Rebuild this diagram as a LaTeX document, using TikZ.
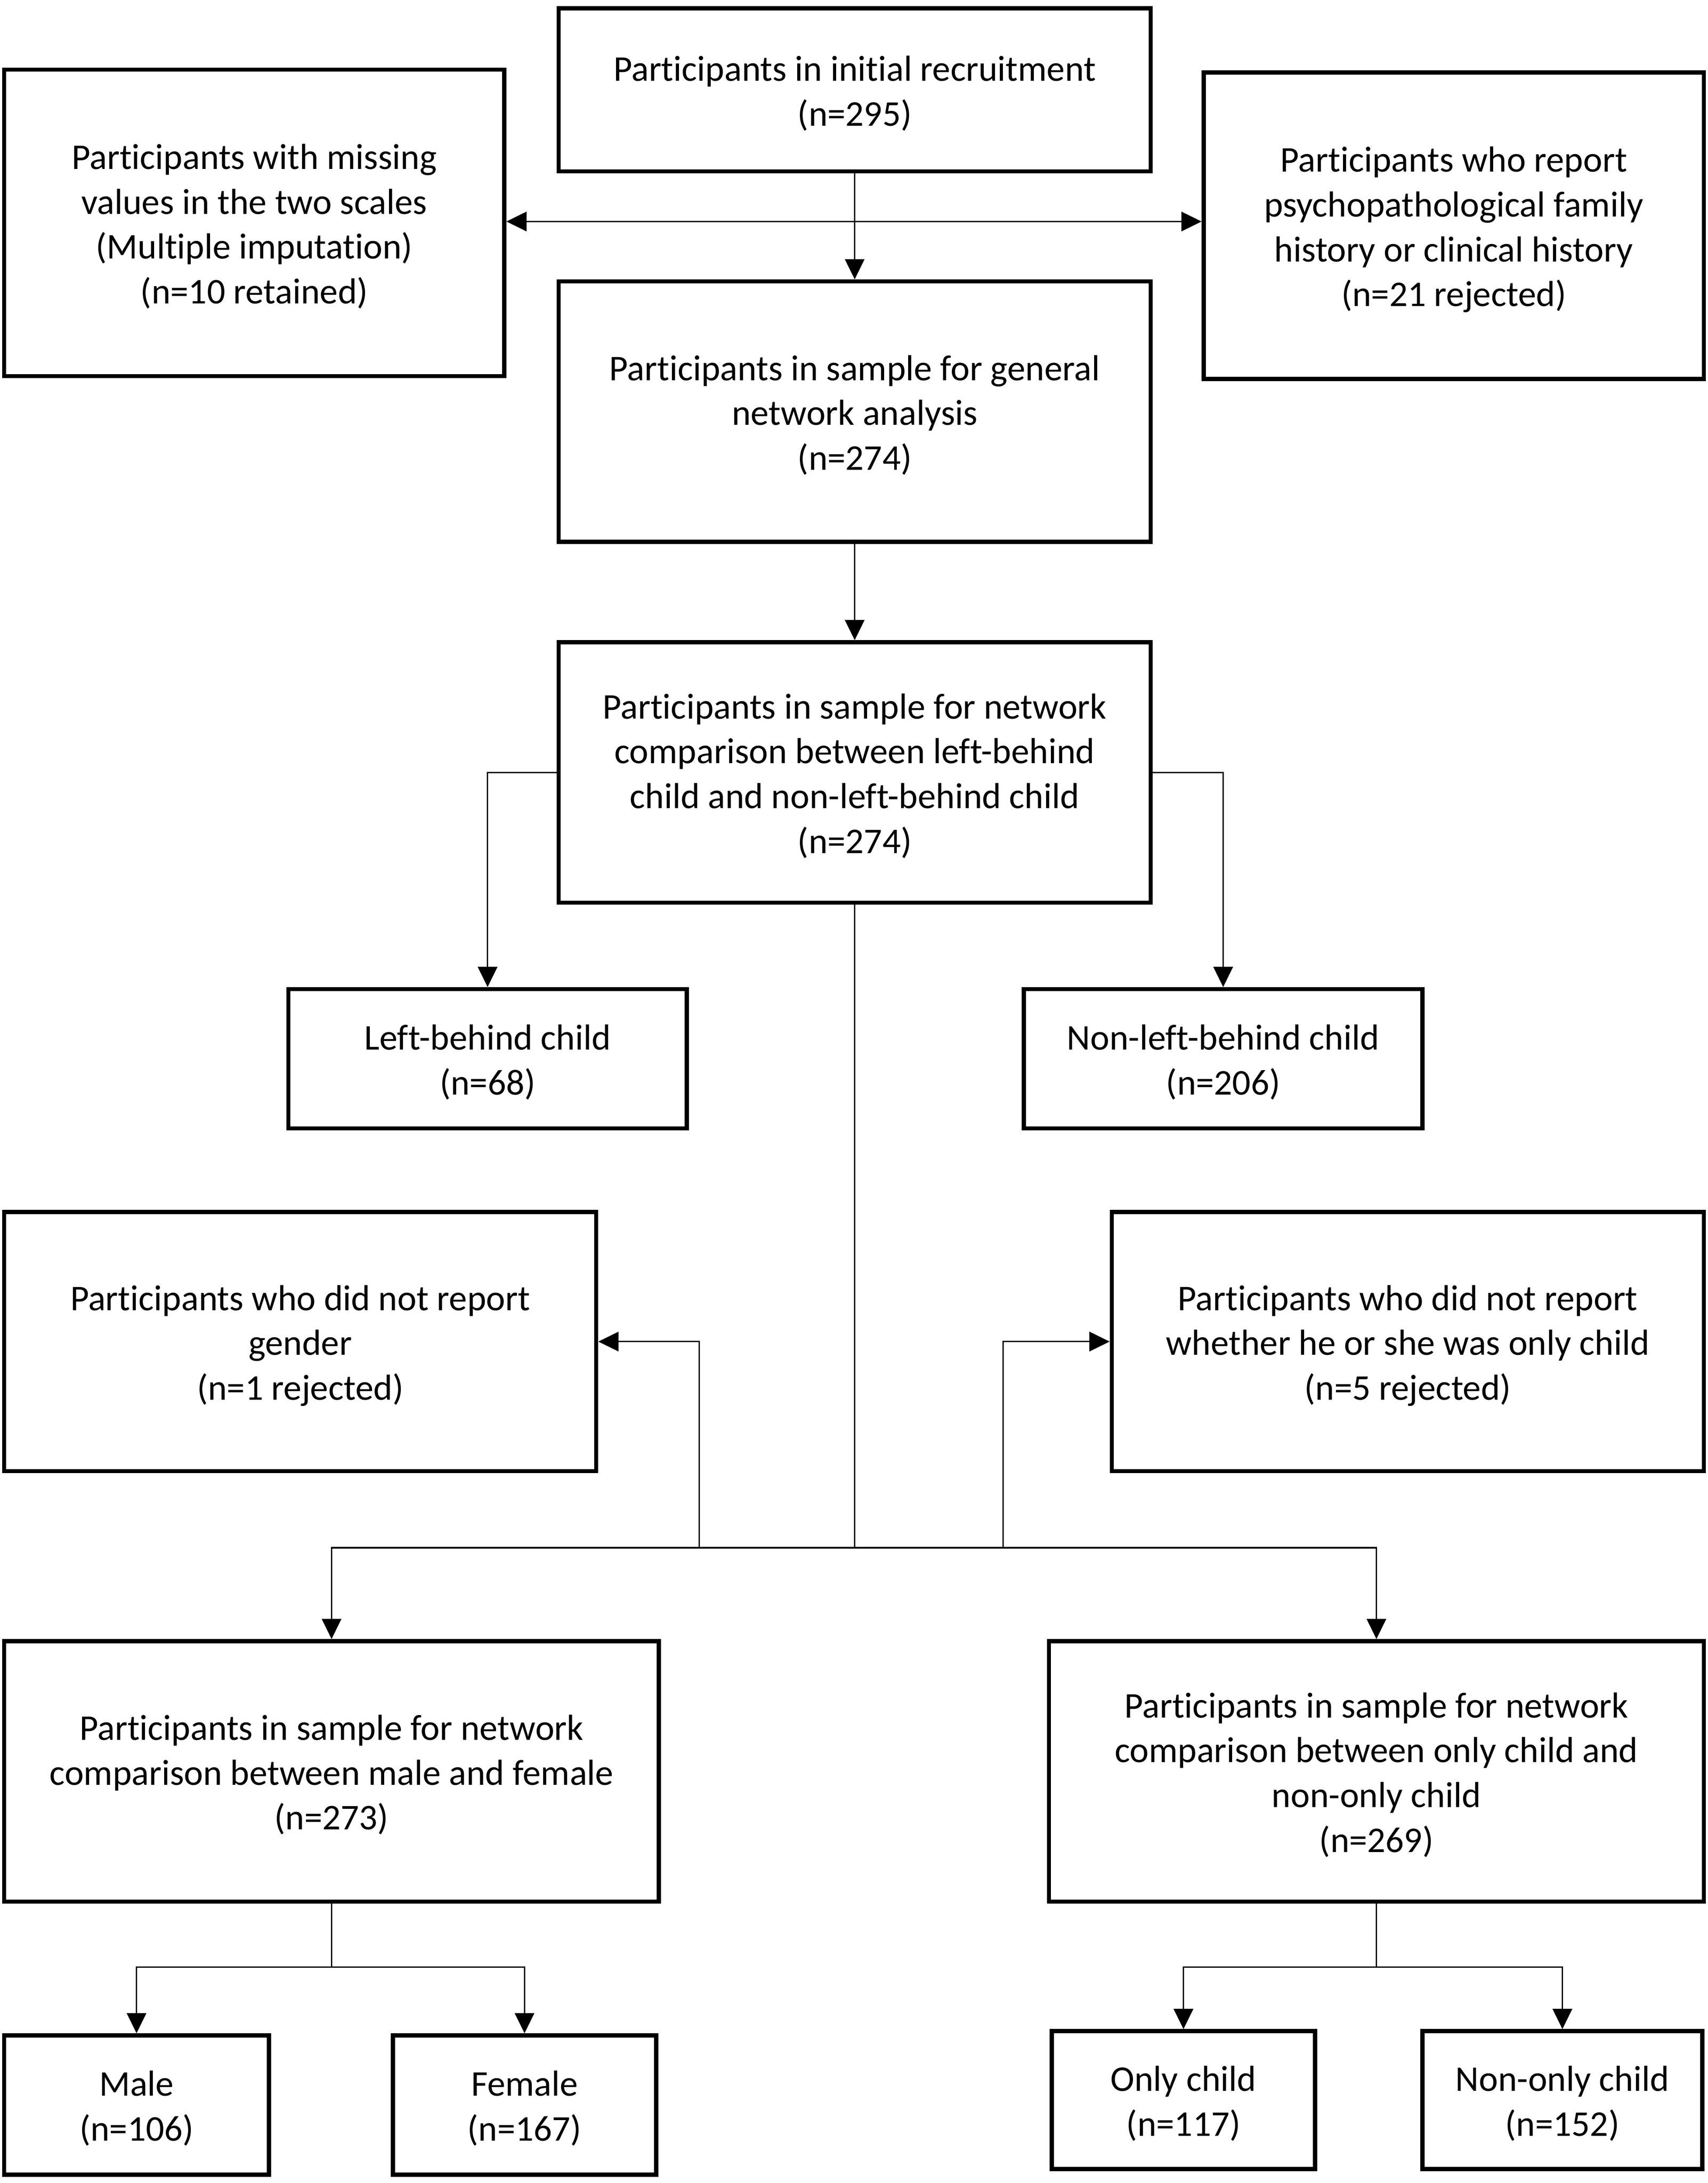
\documentclass[tikz,border=0pt]{standalone}
\usepackage{fontspec}
\setmainfont{Carlito}[Ligatures=NoCommon]
\usetikzlibrary{arrows.meta}
\newcommand\firstln{\rule{0pt}{26.4pt}}
\newcommand\lastln{\rule[-7pt]{0pt}{7pt}}
\tikzset{
  box/.style={draw, line width=3pt, align=center, inner sep=0pt,
    font=\fontsize{26pt}{32.2pt}\selectfont},
  conn/.style={line width=1pt},
  arr/.style={conn, -{Triangle[length=14.5pt,width=14pt]}},
  darr/.style={conn, {Triangle[length=14.5pt,width=14pt]}-{Triangle[length=14.5pt,width=14pt]}},
}
\begin{document}
\begin{tikzpicture}[x=1pt,y=-1pt]
\fill[white] (0,0) rectangle (1226,1567);
\useasboundingbox (0,0) rectangle (1226,1567);

\node[box, minimum width=425pt, minimum height=117pt] (n1) at (613.5,64.5)
  {\firstln Participants in initial recruitment\\\lastln(n=295)};
\node[box, minimum width=359pt, minimum height=220pt] (n2) at (182.5,160)
  {\firstln Participants with missing\\values in the two scales\\(Multiple imputation)\\\lastln(n=10 retained)};
\node[box, minimum width=359pt, minimum height=220pt] (n3) at (1043.5,162)
  {\firstln Participants who report\\psychopathological family\\history or clinical history\\\lastln(n=21 rejected)};
\node[box, minimum width=425pt, minimum height=187pt] (n4) at (613.5,295.5)
  {\firstln Participants in sample for general\\network analysis\\\lastln(n=274)};
\node[box, minimum width=425pt, minimum height=187pt] (n5) at (613.5,554.5)
  {\firstln Participants in sample for network\\comparison between left-behind\\child and non-left-behind child\\\lastln(n=274)};
\node[box, minimum width=286pt, minimum height=100pt] (n6) at (350,760)
  {\firstln Left-behind child\\\lastln(n=68)};
\node[box, minimum width=286pt, minimum height=100pt] (n7) at (878,760)
  {\firstln Non-left-behind child\\\lastln(n=206)};
\node[box, minimum width=425pt, minimum height=186pt] (n8) at (215.5,963)
  {\firstln Participants who did not report\\gender\\\lastln(n=1 rejected)};
\node[box, minimum width=425pt, minimum height=186pt] (n9) at (1010.5,963)
  {\firstln Participants who did not report\\whether he or she was only child\\\lastln(n=5 rejected)};
\node[box, minimum width=470pt, minimum height=187pt] (n10) at (238,1271.5)
  {\firstln Participants in sample for network\\comparison between male and female\\\lastln(n=273)};
\node[box, minimum width=470pt, minimum height=187pt] (n11) at (988,1271.5)
  {\firstln Participants in sample for network\\comparison between only child and\\non-only child\\\lastln(n=269)};
\node[box, minimum width=190pt, minimum height=100pt] (n12) at (98,1511)
  {\firstln Male\\\lastln(n=106)};
\node[box, minimum width=189pt, minimum height=100pt] (n13) at (376.5,1511)
  {\firstln Female\\\lastln(n=167)};
\node[box, minimum width=189pt, minimum height=99pt] (n14) at (849.5,1507.5)
  {\firstln Only child\\\lastln(n=117)};
\node[box, minimum width=201pt, minimum height=99pt] (n15) at (1121.5,1507.5)
  {\firstln Non-only child\\\lastln(n=152)};

% top
\coordinate (h1) at (613.5,159);
\draw[arr] (n1.south) -- (n4.north);
\draw[darr] (h1 -| n2.east) -- (h1 -| n3.west);
\draw[arr] (n4.south) -- (n5.north);
% left-behind split
\draw[arr] (n5.west) -| (n6.north);
\draw[arr] (n5.east) -| (n7.north);
% trunk
\coordinate (j) at (613.5,1111);
\coordinate (j1) at (502,1111);
\coordinate (j2) at (720,1111);
\draw[conn] (n5.south) -- (j);
\draw[arr] (j) -| (n10.north);
\draw[arr] (j) -| (n11.north);
\draw[arr] (j1) |- (n8.east);
\draw[arr] (j2) |- (n9.west);
% gender split
\coordinate (k1) at (238,1412);
\draw[conn] (n10.south) -- (k1);
\draw[arr] (k1) -| (n12.north);
\draw[arr] (k1) -| (n13.north);
% only child split
\coordinate (k2) at (988,1412);
\draw[conn] (n11.south) -- (k2);
\draw[arr] (k2) -| (n14.north);
\draw[arr] (k2) -| (n15.north);
\end{tikzpicture}
\end{document}
